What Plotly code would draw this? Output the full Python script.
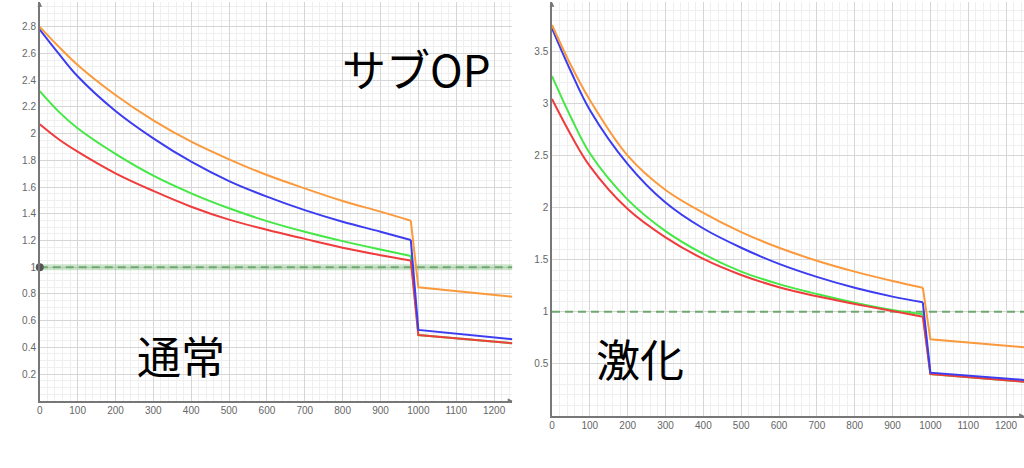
import plotly.graph_objects as go

# --- data ---
x_pts = [0, 50, 100, 200, 300, 400, 500, 600, 700, 800, 900, 980, 1000, 1248]
drop_idx = 11  # index of the last point before the step down

# left panel (通常)
n_orange = [2.80, 2.652, 2.515, 2.29, 2.10, 1.94, 1.808, 1.69, 1.59, 1.496, 1.416, 1.348, 0.849, 0.779]
n_blue = [2.78, 2.60, 2.43, 2.17, 1.965, 1.79, 1.645, 1.528, 1.427, 1.34, 1.266, 1.204, 0.53, 0.46]
n_green = [2.318, 2.165, 2.04, 1.848, 1.685, 1.553, 1.441, 1.345, 1.265, 1.195, 1.132, 1.084, 0.492, 0.43]
n_red = [2.07, 1.958, 1.865, 1.703, 1.571, 1.453, 1.356, 1.28, 1.212, 1.146, 1.09, 1.05, 0.492, 0.43]

# right panel (激化)
g_orange = [3.757, 3.37, 3.035, 2.50, 2.17, 1.95, 1.765, 1.615, 1.49, 1.385, 1.295, 1.231, 0.734, 0.658]
g_blue = [3.725, 3.31, 2.94, 2.42, 2.05, 1.80, 1.615, 1.46, 1.335, 1.23, 1.145, 1.09, 0.414, 0.343]
g_green = [3.266, 2.87, 2.523, 2.078, 1.775, 1.555, 1.385, 1.265, 1.17, 1.087, 1.016, 0.975, 0.401, 0.327]
g_red = [3.045, 2.70, 2.40, 1.987, 1.715, 1.507, 1.353, 1.235, 1.148, 1.074, 1.007, 0.952, 0.401, 0.327]

threshold = 1.0
x_end = 1248

x_ticks = [0, 100, 200, 300, 400, 500, 600, 700, 800, 900, 1000, 1100, 1200]
left_yticks = [0.2, 0.4, 0.6, 0.8, 1.0, 1.2, 1.4, 1.6, 1.8, 2.0, 2.2, 2.4, 2.6, 2.8]
left_ylabels = ["0.2", "0.4", "0.6", "0.8", "1", "1.2", "1.4", "1.6", "1.8", "2", "2.2", "2.4", "2.6", "2.8"]
right_yticks = [0.5, 1.0, 1.5, 2.0, 2.5, 3.0, 3.5]
right_ylabels = ["0.5", "1", "1.5", "2", "2.5", "3", "3.5"]

ORANGE = "#fb9a3c"
BLUE = "#3c3cf0"
GREEN = "#44e844"
RED = "#f03c3c"
DASH = "#6fa86f"

fig = go.Figure()


def add_panel(xa, ya, series, band):
    if band:
        fig.add_trace(go.Scatter(x=[0, x_end], y=[threshold, threshold], xaxis=xa, yaxis=ya,
                                 mode="lines", line=dict(color="rgba(110,180,110,0.35)", width=6),
                                 hoverinfo="skip"))
    fig.add_trace(go.Scatter(x=[0, x_end], y=[threshold, threshold], xaxis=xa, yaxis=ya,
                             mode="lines", line=dict(color=DASH, width=2, dash="8px,5px"),
                             hoverinfo="skip"))
    for ys, col in series:
        # smooth decay before the step, straight step and tail after it
        fig.add_trace(go.Scatter(x=x_pts[:drop_idx + 1], y=ys[:drop_idx + 1], xaxis=xa, yaxis=ya,
                                 mode="lines", line=dict(color=col, width=2, shape="spline",
                                                         smoothing=1.0)))
        fig.add_trace(go.Scatter(x=x_pts[drop_idx:], y=ys[drop_idx:], xaxis=xa, yaxis=ya,
                                 mode="lines", line=dict(color=col, width=2)))


add_panel("x", "y", [(n_green, GREEN), (n_red, RED), (n_blue, BLUE), (n_orange, ORANGE)], True)
add_panel("x2", "y2", [(g_green, GREEN), (g_red, RED), (g_blue, BLUE), (g_orange, ORANGE)], False)

# point on the threshold line at the origin side
fig.add_trace(go.Scatter(x=[0], y=[threshold], mode="markers", cliponaxis=False,
                         marker=dict(color="#555555", size=8)))

tickfont = dict(family="Liberation Sans, Arial", size=10, color="#666666")
xcommon = dict(tickvals=x_ticks, showgrid=True, gridcolor="#d6d6d6", gridwidth=1,
               minor=dict(dtick=20, tick0=0, showgrid=True, gridcolor="#efefef"),
               zeroline=False, showline=True, linecolor="#777777", linewidth=1.5,
               ticks="", tickfont=tickfont, fixedrange=True)
ycommon = dict(showgrid=True, gridcolor="#d6d6d6", gridwidth=1, zeroline=False,
               showline=True, linecolor="#777777", linewidth=1.5,
               ticks="", tickfont=tickfont, fixedrange=True)

fig.update_layout(
    width=1024, height=468, autosize=False,
    margin=dict(l=0, r=0, t=0, b=0),
    paper_bgcolor="white", plot_bgcolor="white",
    showlegend=False,
    xaxis=dict(domain=[0.036, 0.499], range=[0, 1248.6], anchor="y", **xcommon),
    yaxis=dict(domain=[0.1438, 0.9957], range=[0, 2.986], anchor="x",
               tickvals=left_yticks, ticktext=left_ylabels,
               minor=dict(dtick=0.05, tick0=0, showgrid=True, gridcolor="#efefef"), **ycommon),
    xaxis2=dict(domain=[0.5377, 1.0], range=[0, 1247.4], anchor="y2", **xcommon),
    yaxis2=dict(domain=[0.1118, 0.9957], range=[0, 3.978], anchor="x2",
                tickvals=right_yticks, ticktext=right_ylabels,
                minor=dict(dtick=0.1, tick0=0, showgrid=True, gridcolor="#efefef"), **ycommon),
)

big = dict(family="Noto Sans CJK JP", size=44, color="black")
fig.add_annotation(x=996, y=2.49, xref="x", yref="y", text="サブOP", showarrow=False, font=big)
fig.add_annotation(x=374, y=0.343, xref="x", yref="y", text="通常", showarrow=False, font=big)
fig.add_annotation(x=233, y=0.555, xref="x2", yref="y2", text="激化", showarrow=False, font=big)

# axis arrowheads
for xr, yr, ytop, xr_end in [("x", "y", 2.986, 1248.6), ("x2", "y2", 3.978, 1247.4)]:
    fig.add_annotation(x=0, y=ytop, xref=xr, yref=yr, ax=0, ay=6, text="", showarrow=True,
                       arrowhead=2, arrowsize=0.8, arrowwidth=1.2, arrowcolor="#777777")
    fig.add_annotation(x=xr_end, y=0, xref=xr, yref=yr, ax=-6, ay=0, text="", showarrow=True,
                       arrowhead=2, arrowsize=0.8, arrowwidth=1.2, arrowcolor="#777777")

fig.write_html("out.html", config={"displayModeBar": False},
               post_script="document.body.style.margin='0';")
